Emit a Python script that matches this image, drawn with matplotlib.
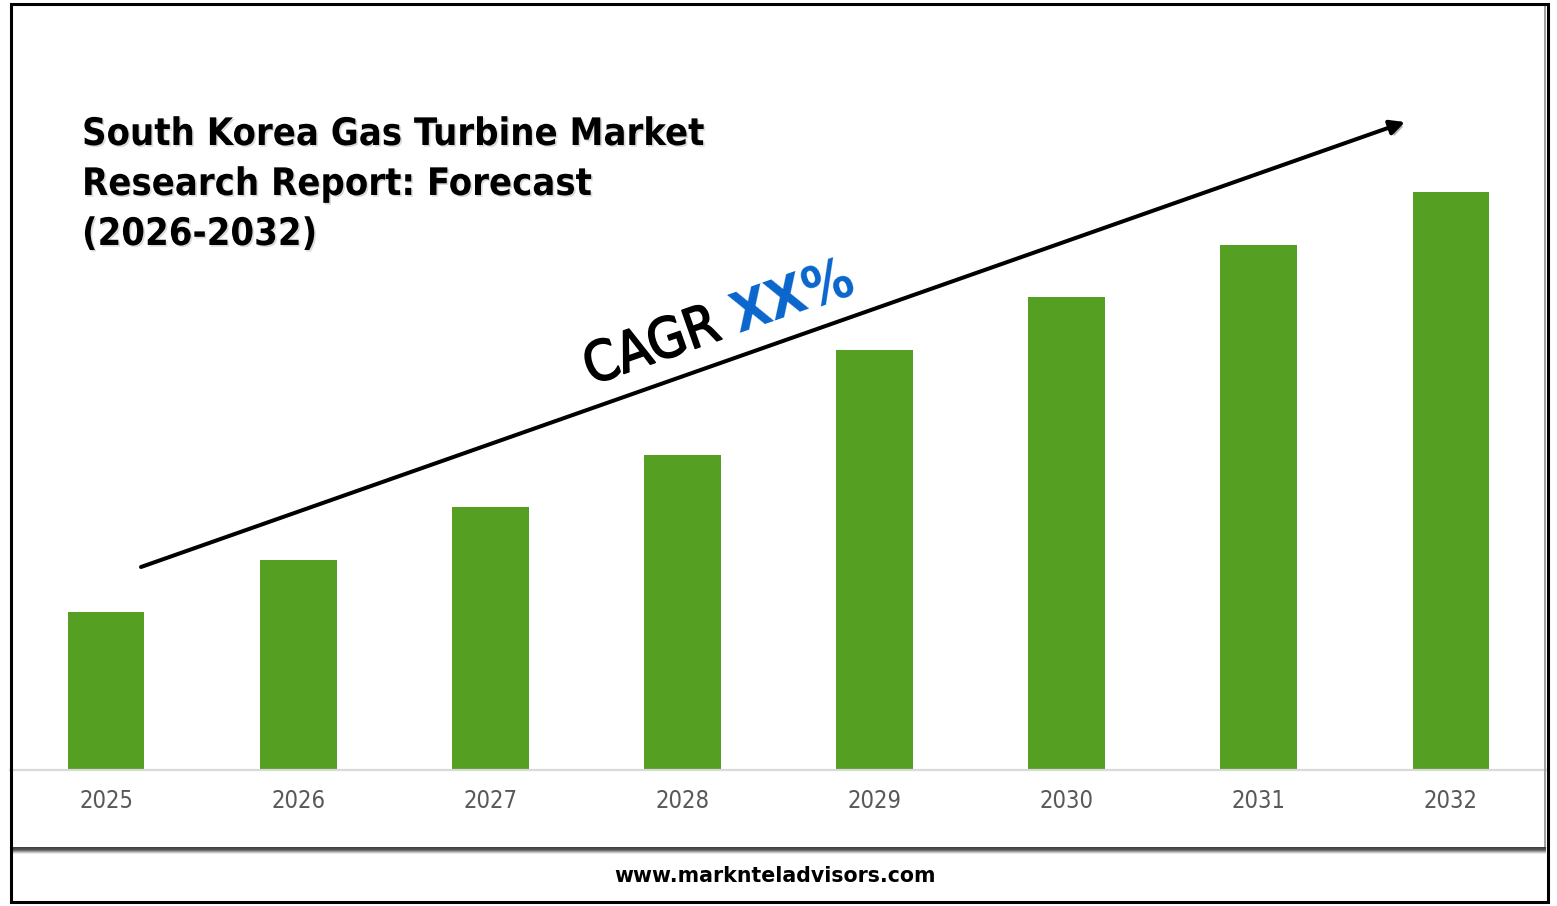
import matplotlib
matplotlib.use('Agg')
import matplotlib.pyplot as plt
import matplotlib.patheffects as pe
from matplotlib.patches import Rectangle, FancyArrowPatch
import numpy as np

years = ['2025', '2026', '2027', '2028', '2029', '2030', '2031', '2032']
values = [3, 4, 5, 6, 8, 9, 10, 11]
title_lines = ['South Korea Gas Turbine Market', 'Research Report: Forecast', '(2026-2032)']
cagr_label = 'CAGR'
cagr_value = 'XX%'
footer_text = 'www.marknteladvisors.com'

W, H = 1557, 906
fig = plt.figure(figsize=(W / 100, H / 100), dpi=100)
fig.patch.set_facecolor('white')


def fx(px):
    return px / W


def fy(py):
    return 1 - py / H


renderer = fig.canvas.get_renderer()


def fit_width(t, target_px):
    w = t.get_window_extent(renderer).width
    t.set_fontsize(t.get_fontsize() * target_px / w)


FONT = ['DejaVu Sans']

# main axes
ax = fig.add_axes([fx(10), fy(770), fx(1547) - fx(10), fy(20) - fy(770)])
x = np.arange(len(years))
ax.bar(x, values, width=0.40, color='#55A022', zorder=2)
ax.set_xlim(-0.5, len(years) - 0.5)
ax.set_ylim(0, 750 / 52.55)
for s in ax.spines.values():
    s.set_visible(False)
ax.axhline(0, color='#d9d9d9', lw=1.6, zorder=3, clip_on=False)
ax.set_yticks([])
ax.set_xticks(x)
ax.set_xticklabels(years, fontsize=17, color='#595959', family=FONT, stretch='condensed')
ax.tick_params(axis='x', length=0, pad=14)
ax.patch.set_alpha(0)

# title
shadow = [pe.SimplePatchShadow(offset=(1.2, -1.2), shadow_rgbFace='#999999', alpha=0.35), pe.Normal()]
tts = []
for i, line in enumerate(title_lines):
    t = fig.text(fx(82), fy(145 + 50 * i), line, fontsize=28, fontweight='bold',
                 family=FONT, stretch='condensed', ha='left', va='baseline',
                 color='black', path_effects=shadow)
    tts.append(t)
w0 = tts[0].get_window_extent(renderer).width
scale = 623 / w0
for t in tts:
    t.set_fontsize(t.get_fontsize() * scale)

# arrow
x0, y0 = 141, 567
x1, y1 = 1405, 122
arr = fig.add_artist(FancyArrowPatch(
    (fx(x0), fy(y0)), (fx(x1), fy(y1)), transform=fig.transFigure,
    arrowstyle='-|>', mutation_scale=22, lw=2.9, color='black',
    shrinkA=0, shrinkB=0))
arr.set_path_effects([pe.SimplePatchShadow(offset=(2, -2), alpha=0.3), pe.Normal()])

# CAGR label
ang = np.degrees(np.arctan2(y0 - y1, x1 - x0))
cx, cy = 591, 385
thick = [pe.withStroke(linewidth=1.3, foreground='black')]
tc = fig.text(fx(cx), fy(cy), cagr_label + ' ', fontsize=34, family=FONT,
              stretch='condensed', color='black')
tmp = fig.text(0, 0, cagr_label, fontsize=34, family=FONT, stretch='condensed')
sc = 140 / tmp.get_window_extent(renderer).width
tmp.set_fontsize(34 * sc)
tc.set_fontsize(34 * sc)
wfull = tc.get_window_extent(renderer).width
tmp.remove()
tc.set_rotation(ang)
tc.set_rotation_mode('anchor')
tc.set_ha('left')
tc.set_va('baseline')
tc.set_path_effects(thick)
rad = np.radians(ang)
vx = cx + wfull * np.cos(rad)
vy = cy - wfull * np.sin(rad)
fig.text(fx(vx), fy(vy), cagr_value, fontsize=34 * sc, family=FONT,
         stretch='condensed', fontweight='bold', color='#0A66CC',
         rotation=ang, rotation_mode='anchor', ha='left', va='baseline')

# footer
tf = fig.text(fx(775), fy(876), footer_text, fontsize=16, fontweight='bold',
              family=FONT, ha='center', va='center', color='black')
fit_width(tf, 322)

# separator band with shadow
shades = ['#404040', '#4a4a4a', '#555555', '#707070', '#9a9a9a', '#c8c8c8', '#e6e6e6']
for k, c in enumerate(shades):
    fig.add_artist(Rectangle((fx(11), fy(847 + k + 1)), fx(1546) - fx(11), 1 / H,
                             transform=fig.transFigure, color=c, lw=0))
# panel right edge shadow
fig.add_artist(Rectangle((fx(1544), fy(847)), 2 / W, (847 - 4) / H,
                         transform=fig.transFigure, color='#a0a0a0', lw=0))

# outer border
fig.add_artist(Rectangle((fx(10.5), fy(901.5)), (1547.5 - 10.5) / W, (901.5 - 3.5) / H,
                         transform=fig.transFigure, fill=False, ec='black', lw=2.2))

fig.savefig('out.png', dpi=100)
